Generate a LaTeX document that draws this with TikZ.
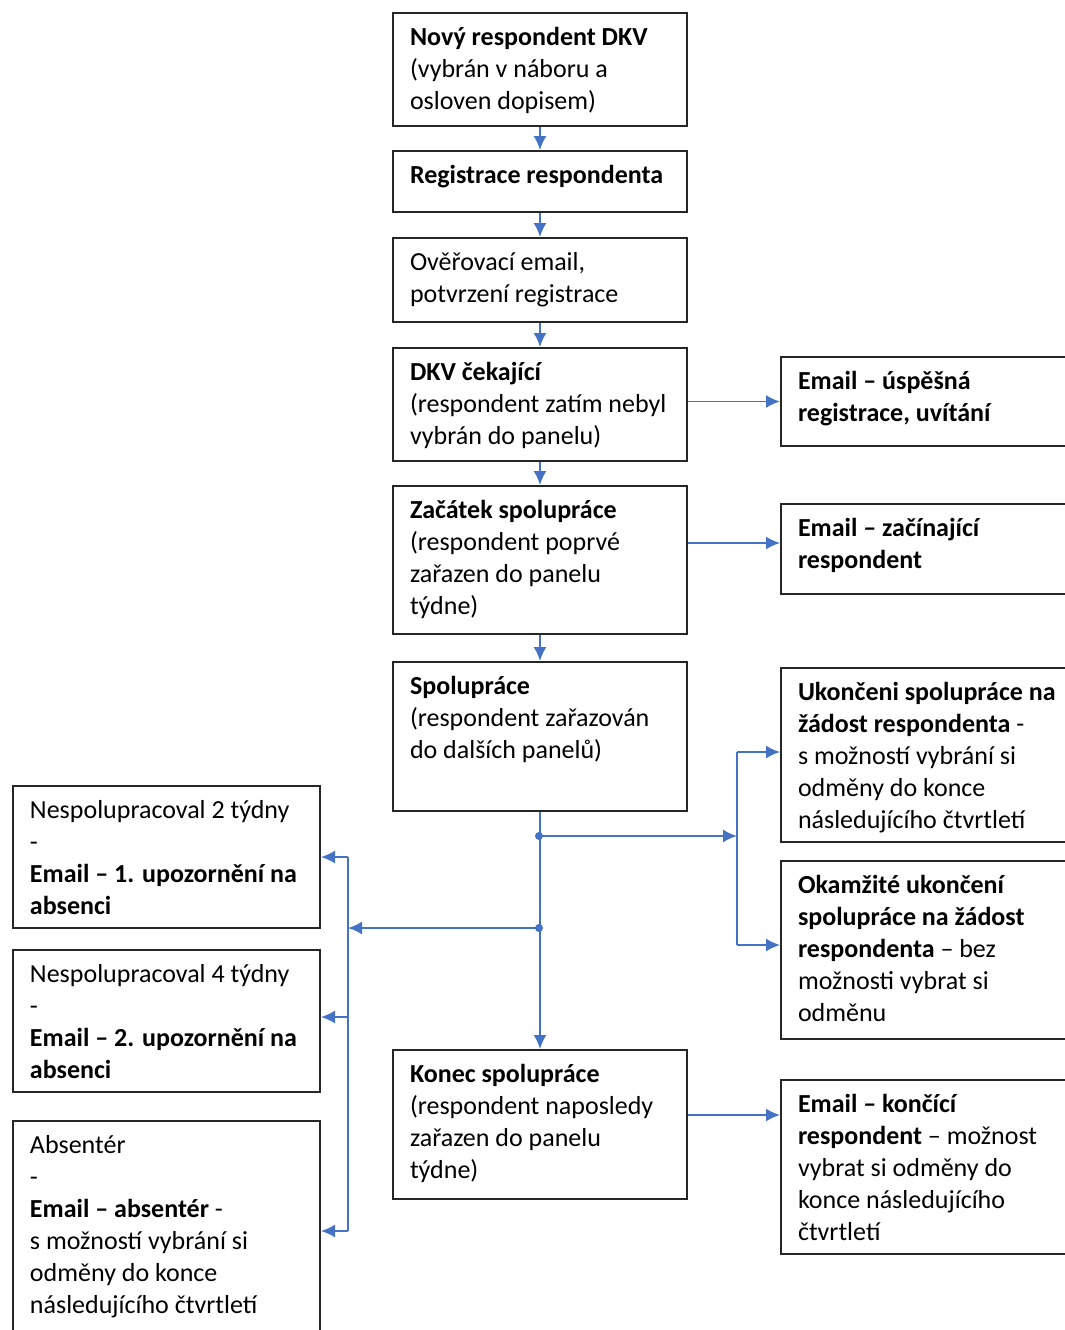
\documentclass[tikz,border=0pt]{standalone}
\usepackage{fontspec}
\setmainfont{Carlito}
\usetikzlibrary{calc}
\usetikzlibrary{arrows.meta}
\definecolor{arrowblue}{RGB}{68,114,196}

\tikzset{
  flowbox/.style={draw=black!85, line width=1pt, anchor=north west,
    inner xsep=8.5pt, inner ysep=5pt, fill=white,
    font=\fontsize{13}{16}\selectfont},
  flowline/.style={arrowblue, line width=0.9pt},
  flowarrow/.style={flowline, -{Latex[length=7pt,width=6.5pt]}}
}

\begin{document}
\begin{tikzpicture}[x=0.5pt,y=-0.5pt]
\useasboundingbox (0,0) rectangle (1065,1330);
\clip (0,0) rectangle (1065,1330);

% name, x, y, width, height (px), text
\newcommand{\flowbox}[6]{
    \node[flowbox] (#1) at (#2,#3)
      {\parbox[c][\dimexpr #5pt/2-10pt\relax][t]{\dimexpr #4pt/2-17pt\relax}{\strut #6}};
}

% middle column
\flowbox{novy}{392}{12}{294}{113}{\textbf{Nový respondent DKV}\\(vybrán v náboru a\\osloven dopisem)}
\flowbox{registr}{392}{150}{294}{61}{\textbf{Registrace respondenta}}
\flowbox{overeni}{392}{237}{294}{84}{Ověřovací email,\\potvrzení registrace}
\flowbox{cekajici}{392}{347}{294}{113}{\textbf{DKV čekající}\\(respondent zatím nebyl\\vybrán do panelu)}
\flowbox{zacatek}{392}{485}{294}{148}{\textbf{Začátek spolupráce}\\(respondent poprvé\\zařazen do panelu\\týdne)}
\flowbox{spoluprace}{392}{661}{294}{149}{\textbf{Spolupráce}\\(respondent zařazován\\do dalších panelů)}
\flowbox{konec}{392}{1049}{294}{149}{\textbf{Konec spolupráce}\\(respondent naposledy\\zařazen do panelu\\týdne)}

% right column
\flowbox{uvitani}{780}{356}{320}{89}{\textbf{Email – úspěšná}\\\textbf{registrace, uvítání}}
\flowbox{zacinajici}{780}{503}{320}{90}{\textbf{Email – začínající}\\\textbf{respondent}}
\flowbox{ukonceni}{780}{667}{320}{174}{\textbf{Ukončeni spolupráce na}\\\textbf{žádost respondenta} -\\s možností vybrání si\\odměny do konce\\následujícího čtvrtletí}
\flowbox{okamzite}{780}{860}{320}{178}{\textbf{Okamžité ukončení}\\\textbf{spolupráce na žádost}\\\textbf{respondenta} – bez\\možnosti vybrat si\\odměnu}
\flowbox{koncici}{780}{1079}{320}{174}{\textbf{Email – končící}\\\textbf{respondent} – možnost\\vybrat si odměny do\\konce následujícího\\čtvrtletí}

% left column
\flowbox{absence1}{12}{785}{307}{142}{Nespolupracoval 2 týdny\\-\\\textbf{Email – 1. upozornění na}\\\textbf{absenci}}
\flowbox{absence2}{12}{949}{307}{142}{Nespolupracoval 4 týdny\\-\\\textbf{Email – 2. upozornění na}\\\textbf{absenci}}
\flowbox{absenter}{12}{1120}{307}{250}{Absentér\\-\\\textbf{Email – absentér} -\\s možností vybrání si\\odměny do konce\\následujícího čtvrtletí}

\coordinate (split1) at (539,836);
\coordinate (split2) at (539,928);
\coordinate (rtop) at (737,752);
\coordinate (rend) at (737,836);
\coordinate (rbot) at (737,945);
\coordinate (ltop) at (348,857);
\coordinate (lend) at (348,928);
\coordinate (lmid) at (348,1017);
\coordinate (lbot) at (348,1231);
\coordinate (zline) at (0,543);
\coordinate (kline) at (0,1115);

\draw[flowarrow] (novy.south) -- (registr.north);
\draw[flowarrow] (registr.south) -- (overeni.north);
\draw[flowarrow] (overeni.south) -- (cekajici.north);
\draw[flowarrow] (cekajici.south) -- (zacatek.north);
\draw[flowarrow] (zacatek.south) -- (spoluprace.north);
\draw[flowarrow] (spoluprace.south) -- (konec.north);

\draw[flowarrow] (uvitani.west -| cekajici.east) -- (uvitani.west);
\draw[flowarrow] (zacatek.east |- zline) -- (zacinajici.west |- zline);
\draw[flowarrow] (konec.east |- kline) -- (koncici.west |- kline);

% right branch
\draw[flowarrow] (split1) -- (rend);
\draw[flowline] (rtop) -- (rbot);
\draw[flowarrow] (rtop) -- (rtop -| ukonceni.west);
\draw[flowarrow] (rbot) -- (rbot -| okamzite.west);

% left branch
\draw[flowarrow] (split2) -- (lend);
\draw[flowline] (ltop) -- (lbot);
\draw[flowarrow] (ltop) -- (ltop -| absence1.east);
\draw[flowarrow] (lmid) -- (lmid -| absence2.east);
\draw[flowarrow] (lbot) -- (lbot -| absenter.east);

\fill[arrowblue] (split1) circle (2pt);
\fill[arrowblue] (split2) circle (2pt);
\end{tikzpicture}
\end{document}
